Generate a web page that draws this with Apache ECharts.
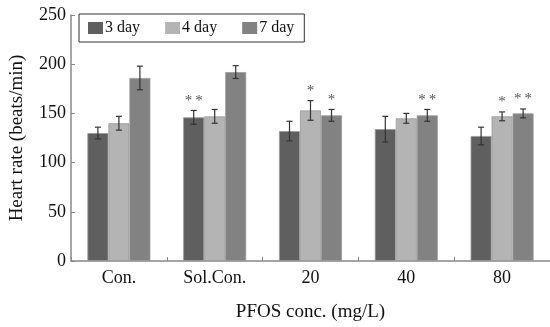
<!DOCTYPE html>
<html>
<head>
<meta charset="utf-8">
<style>
  html, body { margin: 0; padding: 0; background: #fff; }
  #chart { width: 550px; height: 327px; }
</style>
<script src="https://cdn.jsdelivr.net/npm/echarts@6/dist/echarts.min.js"></script>
</head>
<body>
<div id="chart"></div>
<script>
// Groups on the x axis
const categories = ["Con.", "Sol.Con.", "20", "40", "80"];

// Mean heart rate (beats/min) per exposure day
const day3 = [130, 146, 132, 134, 127];
const day4 = [140, 147, 153, 145, 147];
const day7 = [186, 192, 148, 148, 150];

// Error bar half-widths
const err3 = [6, 7, 10, 13, 9];
const err4 = [7, 7, 10, 5, 4.5];
const err7 = [12, 6.5, 6, 6, 4.5];

// Significance marks
const sig3 = ["", "**", "", "", ""];
const sig4 = ["", "", "*", "", "*"];
const sig7 = ["", "", "*", "**", "**"];

const COL_3 = "#5f5f5f";
const COL_4 = "#b4b4b4";
const COL_7 = "#828282";
const FONT = "Liberation Serif";

const chart = echarts.init(document.getElementById("chart"), null, { renderer: "canvas" });

// bar layout within a category (must match series bar settings)
const BAR_W = 21;
const OFFSETS = [-BAR_W, 0, BAR_W];

function errSeries(idx, vals, errs, sigs) {
  return {
    type: "custom",
    z: 5,
    silent: true,
    data: vals.map((v, i) => [i, v, errs[i]]),
    renderItem: function (params, api) {
      const i = api.value(0);
      const v = api.value(1);
      const e = api.value(2);
      const s = sigs[params.dataIndex];
      const c = api.coord([i, v]);
      const x = c[0] + OFFSETS[idx];
      const top = api.coord([i, v + e])[1];
      const bot = api.coord([i, v - e])[1];
      const cap = 3;
      const ls = { stroke: "#333", lineWidth: 1.2 };
      const children = [
        { type: "line", shape: { x1: x, y1: top, x2: x, y2: bot }, style: ls },
        { type: "line", shape: { x1: x - cap, y1: top, x2: x + cap, y2: top }, style: ls },
        { type: "line", shape: { x1: x - cap, y1: bot, x2: x + cap, y2: bot }, style: ls }
      ];
      if (s) {
        children.push({
          type: "text",
          style: {
            text: s.split("").join("\u2009"), x: x, y: top - 2,
            align: "center", verticalAlign: "bottom",
            fill: "#555", font: "15px " + FONT
          }
        });
      }
      return { type: "group", children: children };
    }
  };
}

function barSeries(name, data, color) {
  return {
    name: name,
    type: "bar",
    data: data,
    barWidth: BAR_W,
    barGap: "0%",
    itemStyle: { color: color, borderColor: "#9a9a9a", borderWidth: 0.8 }
  };
}

const option = {
  animation: false,
  backgroundColor: "#fff",
  grid: { left: 71, right: -4, top: 15, bottom: 66, containLabel: false },
  legend: {
    left: 79,
    top: 14,
    icon: "rect",
    itemWidth: 15,
    itemHeight: 12,
    itemGap: 25,
    padding: [6, 10, 6, 9],
    borderColor: "#333",
    borderWidth: 1,
    itemStyle: { borderWidth: 0 },
    textStyle: { fontFamily: FONT, fontSize: 16, color: "#111", padding: [0, 0, 0, -3] },
    data: ["3 day", "4 day", "7 day"]
  },
  xAxis: {
    type: "category",
    data: categories,
    name: "PFOS conc. (mg/L)",
    nameLocation: "middle",
    nameGap: 42,
    nameTextStyle: { fontFamily: FONT, fontSize: 19, color: "#111" },
    axisLine: { lineStyle: { color: "#888", width: 1.5 } },
    axisTick: { show: true, inside: true, length: 4, lineStyle: { color: "#888" } },
    axisLabel: { fontFamily: FONT, fontSize: 18, color: "#111", margin: 8 }
  },
  yAxis: {
    type: "value",
    min: 0,
    max: 250,
    interval: 50,
    name: "Heart rate (beats/min)",
    nameLocation: "middle",
    nameGap: 44,
    nameTextStyle: { fontFamily: FONT, fontSize: 19, color: "#111" },
    axisLine: { show: true, lineStyle: { color: "#888", width: 1.5 } },
    axisTick: { show: true, inside: true, length: 4, lineStyle: { color: "#888" } },
    axisLabel: { fontFamily: FONT, fontSize: 18, color: "#111", margin: 5 },
    splitLine: { show: false }
  },
  series: [
    barSeries("3 day", day3, COL_3),
    barSeries("4 day", day4, COL_4),
    barSeries("7 day", day7, COL_7),
    errSeries(0, day3, err3, sig3),
    errSeries(1, day4, err4, sig4),
    errSeries(2, day7, err7, sig7)
  ]
};

chart.setOption(option);
</script>
</body>
</html>
